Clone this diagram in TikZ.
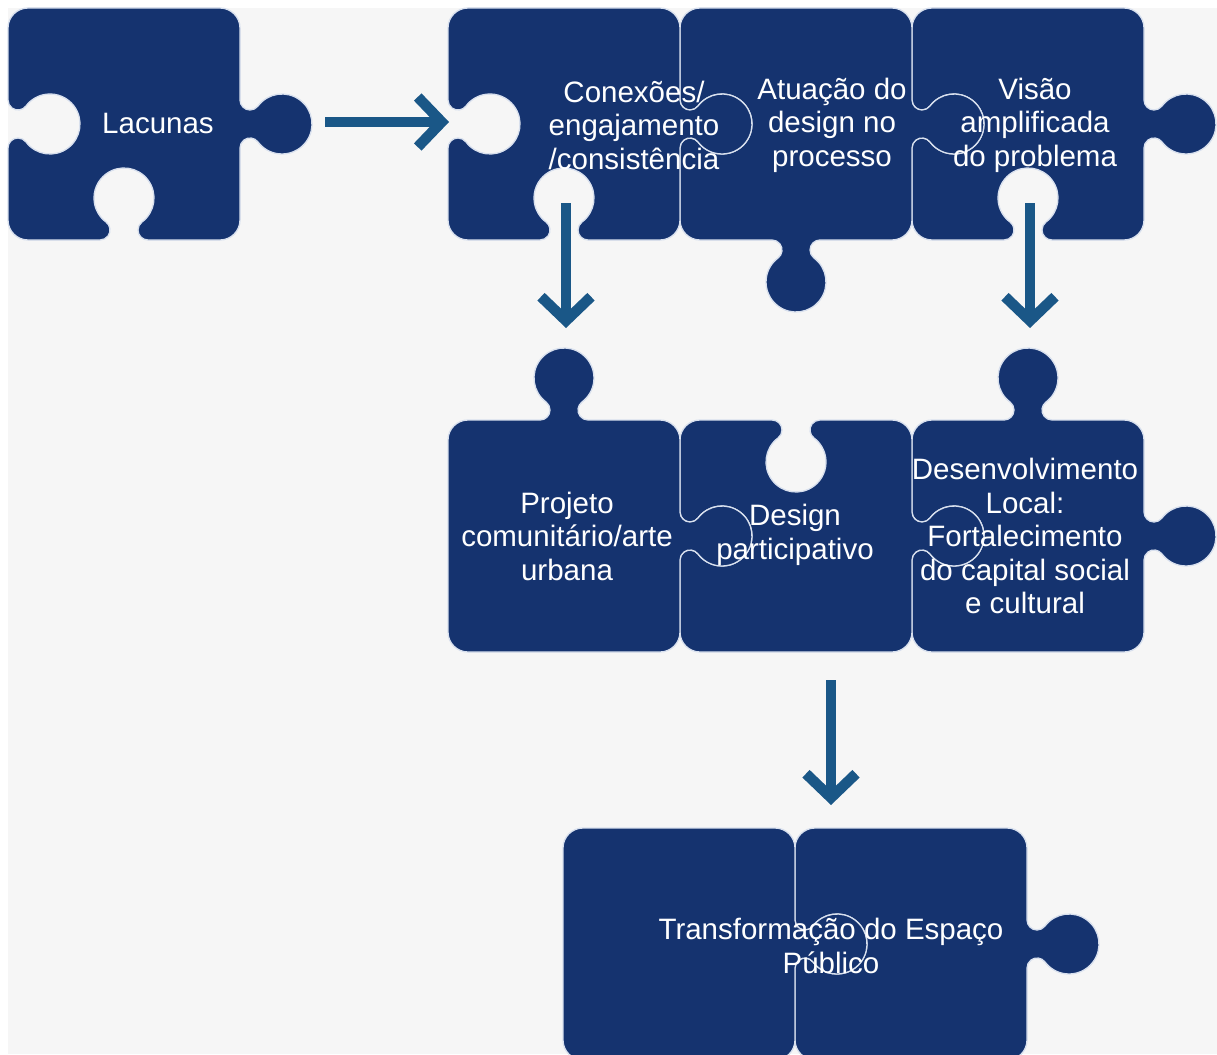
\documentclass[tikz,border=0pt]{standalone}
\usepackage{fontspec}
\setmainfont{Liberation Sans}
\usetikzlibrary{arrows.meta}

\definecolor{navy}{HTML}{15336F}
\definecolor{arrowblue}{HTML}{1A5787}
\definecolor{seam}{HTML}{D8E0EE}
\definecolor{paper}{HTML}{F6F6F6}

% side length of a piece body and its corner radius
\def\pw{232}
\def\pr{20}

\tikzset{
  x=1pt, y=1pt,
  piece/.style={fill=navy, draw=seam, line width=1.3pt},
  piecetext/.style={text=white, align=center, inner sep=0pt,
    font=\fontsize{29.5}{33.5}\selectfont},
  flow/.style={draw=arrowblue, line width=10.5pt,
    -{Straight Barb[length=24pt, width=50pt, sharp]}},
  % a knob on one side: mid point, direction angle, +1 tab / -1 hole
  knob/.style n args={4}{insert path={
    -- ([shift={(#1,#2)}, rotate=#3] -24,0)
    arc[start angle={#3-90*#4}, end angle={#3+53.13*#4}, radius=10]
    arc[start angle={#3+233.13*#4}, end angle={#3-53.13*#4}, radius=30]
    arc[start angle={#3+126.87*#4}, end angle={#3+270*#4}, radius=10]}},
  side T/.style n args={3}{knob={#1}{#2}{#3}{1}},
  side H/.style n args={3}{knob={#1}{#2}{#3}{-1}},
  side F/.style n args={3}{},
}

% \puzzle{left}{top}{top side}{right side}{bottom side}{left side}
% left/top in pixels from the upper left corner; sides are T, H or F
\newcommand\puzzle[6]{%
  \pgfmathsetmacro\pxl{#1}%
  \pgfmathsetmacro\pxr{#1+\pw}%
  \pgfmathsetmacro\pxm{#1+\pw/2}%
  \pgfmathsetmacro\pyt{-#2}%
  \pgfmathsetmacro\pyb{-#2-\pw}%
  \pgfmathsetmacro\pym{-#2-\pw/2}%
  \path[piece] ({\pxl+\pr},\pyt)
    [side #3={\pxm}{\pyt}{0}] -- ({\pxr-\pr},\pyt)
    arc[start angle=90, end angle=0, radius=\pr]
    [side #4={\pxr}{\pym}{-90}] -- (\pxr,{\pyb+\pr})
    arc[start angle=0, end angle=-90, radius=\pr]
    [side #5={\pxm}{\pyb}{180}] -- ({\pxl+\pr},\pyb)
    arc[start angle=-90, end angle=-180, radius=\pr]
    [side #6={\pxl}{\pym}{90}] -- (\pxl,{\pyt-\pr})
    arc[start angle=180, end angle=90, radius=\pr] -- cycle;%
}

\begin{document}
\begin{tikzpicture}
\useasboundingbox (0,0) rectangle (1217,-1054);
\fill[white] (0,0) rectangle (1217,-1054);
\fill[paper] (8,-8) rectangle (1217,-1054);

% first row
\puzzle{8}{8}{F}{T}{H}{H}
\puzzle{912}{8}{F}{T}{H}{H}
\puzzle{680}{8}{F}{T}{T}{H}
\puzzle{448}{8}{F}{T}{H}{H}

% second row
\puzzle{912}{420}{T}{T}{F}{H}
\puzzle{680}{420}{H}{T}{F}{H}
\puzzle{448}{420}{T}{T}{F}{F}

% third row
\puzzle{795}{828}{F}{T}{F}{H}
\puzzle{563}{828}{F}{T}{F}{F}

% texts
\node[piecetext] (lac) at (158,-123) {Lacunas};
\node[piecetext] (con) at (634,-125) {Conexões/\\engajamento\\/consistência};
\node[piecetext] (atu) at (832,-125) {Atuação do\\design no\\processo};
\node[piecetext] (vis) at (1035,-125) {Visão\\amplificada\\do problema};
\node[piecetext] (pro) at (567,-536) {Projeto\\comunitário/arte\\urbana};
\node[piecetext] (dpa) at (795,-535) {Design\\participativo};
\node[piecetext] (des) at (1025,-536) {Desenvolvimento\\Local:\\Fortalecimento\\do capital social\\e cultural};
\node[piecetext] (tra) at (831,-946) {Transformação do Espaço\\Público};

% arrows
\coordinate (lacOut) at (325,-122);
\coordinate (conIn) at (449,-122);
\coordinate (conOut) at (566,-203);
\coordinate (proIn) at (566,-328);
\coordinate (visOut) at (1030,-203);
\coordinate (desIn) at (1030,-328);
\coordinate (rowOut) at (831,-680);
\coordinate (traIn) at (831,-805);
\draw[flow] (lacOut) -- (conIn);
\draw[flow] (conOut) -- (proIn);
\draw[flow] (visOut) -- (desIn);
\draw[flow] (rowOut) -- (traIn);
\end{tikzpicture}
\end{document}
